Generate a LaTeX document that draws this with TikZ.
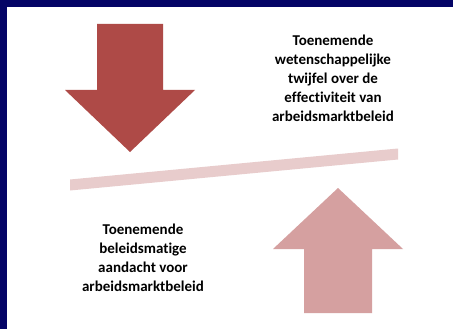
\documentclass[tikz,border=0pt]{standalone}
\usepackage{fontspec}
\setmainfont{Carlito}[Ligatures=NoCommon]
\usepackage{xcolor}
\definecolor{navy}{RGB}{4,4,102}
\definecolor{darkred}{RGB}{174,74,71}
\definecolor{lightred}{RGB}{213,160,160}
\definecolor{palered}{RGB}{232,204,204}
\tikzset{textblock/.style={align=center,font=\bfseries\fontsize{15}{19}\selectfont,inner sep=0}}

\begin{document}
\begin{tikzpicture}[x=1pt,y=-1pt]
	\fill[navy] (0,0) rectangle (453,329);
	\fill[white] (7,7) rectangle (453,329);
	\useasboundingbox (0,0) rectangle (453,329);
	%down arrow
	\fill[darkred] (97,24)--(163,24)--(163,90)--(195,90)--(130,152)--(65,90)--(97,90)--cycle;
	%up arrow
	\fill[lightred] (304,313)--(372,313)--(372,249)--(403,249)--(338,188)--(273,249)--(304,249)--cycle;
	%tilted bar
	\fill[palered] (70,179.5)--(398,148.5)--(398,159.5)--(70,190.5)--cycle;
	\node[textblock] (twijfel) at (333,78.5){Toenemende\\wetenschappelijke\\twijfel over de\\effectiviteit van\\arbeidsmarktbeleid};
	\node[textblock] (aandacht) at (143,258){Toenemende\\beleidsmatige\\aandacht voor\\arbeidsmarktbeleid};
\end{tikzpicture}
\end{document}
